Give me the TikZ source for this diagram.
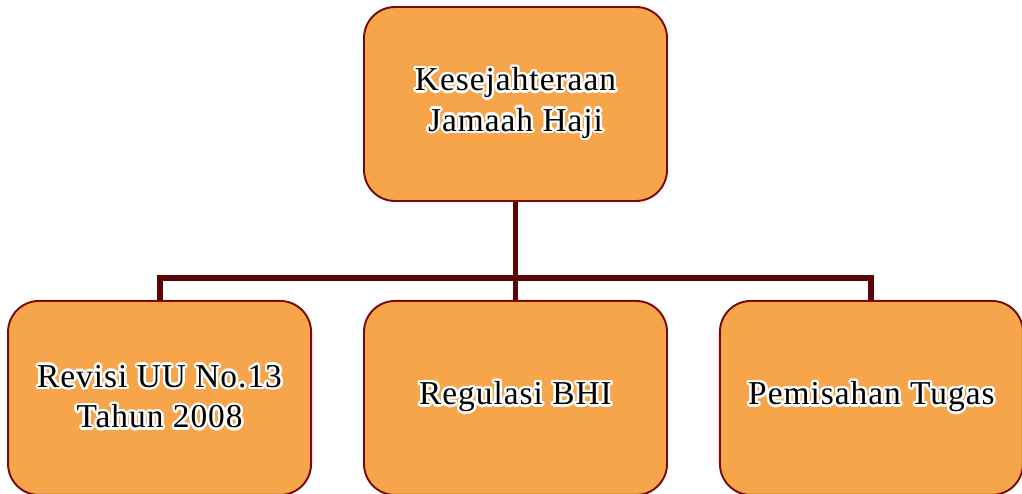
\documentclass[tikz,border=0pt]{standalone}
\usepackage{fontspec}
\setmainfont{Liberation Serif}[LetterSpace=3]
\usepackage{contour}
\usetikzlibrary{positioning}
\definecolor{boxfill}{HTML}{F7A54B}
\definecolor{boxedge}{HTML}{7A0A0A}
\definecolor{linkcol}{HTML}{5A0606}
\contourlength{1.4pt}
\contournumber{16}
\newcommand{\glow}[1]{\contour{white}{#1}}

\begin{document}
\begin{tikzpicture}[
      font = \fontsize{19}{23}\selectfont,
      box/.style={
        draw = boxedge,
        line width = 1.1pt,
        rounded corners = 0.62cm,
        fill = boxfill,
        minimum width = 6.06cm,
        minimum height = 3.88cm,
        align = center,
      },
      link/.style={
        draw = linkcol,
        line width = 3.4pt,
      },
    ]
    \useasboundingbox (0,0) rectangle (20.44,-9.86);
    \node[box] (top) at (10.31,-2.08) {\glow{Kesejahteraan}\\\glow{Jamaah Haji}};
    \node[box, below=1.96cm of top] (mid) {\glow{Regulasi BHI}};
    \node[box, left=1.02cm of mid] (left) {\glow{Revisi UU No.13}\\\glow{Tahun 2008}};
    \node[box, right=1.02cm of mid] (right) {\glow{Pemisahan Tugas}};
    \coordinate (split) at ([yshift=-1.52cm]top.south);
    \draw[link] (top.south) -- (mid.north);
    \draw[link] (left.north) |- (split) -| (right.north);
  \end{tikzpicture}
\end{document}
